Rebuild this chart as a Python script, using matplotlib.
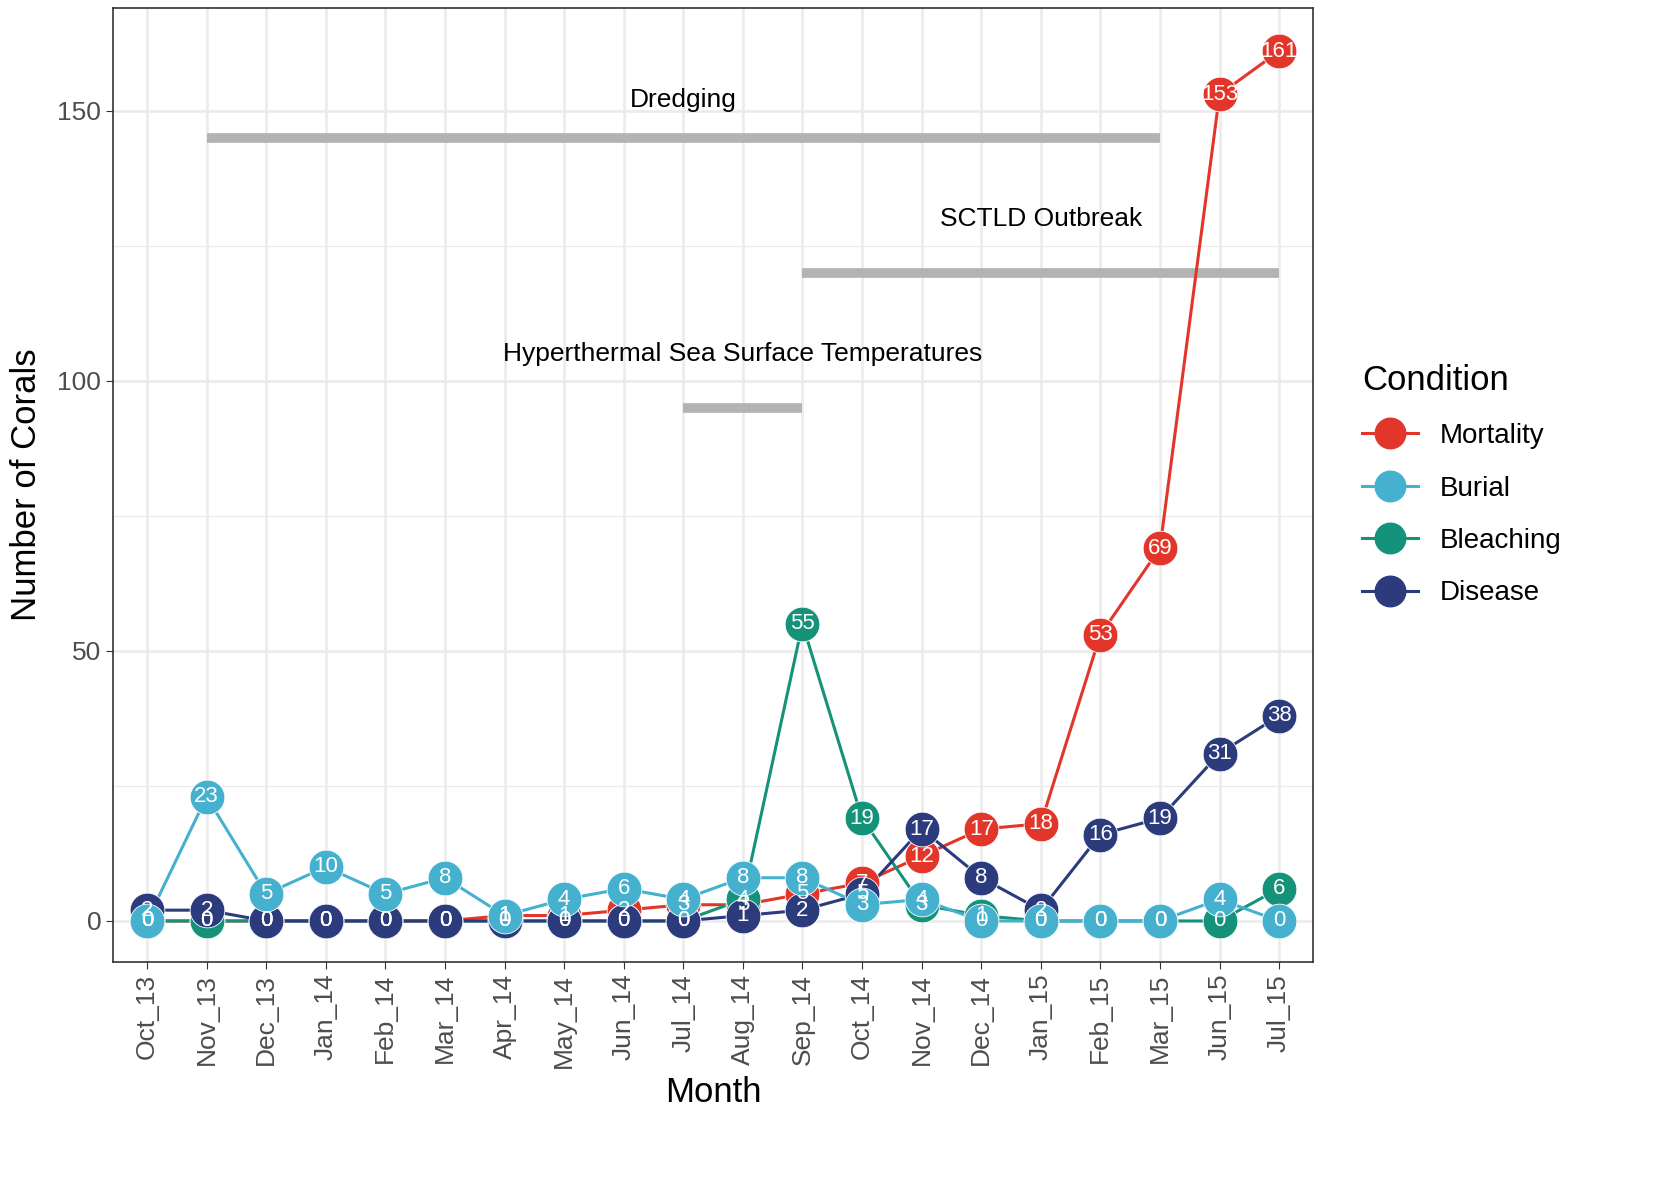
import matplotlib
matplotlib.use('Agg')
import matplotlib.pyplot as plt
from matplotlib.lines import Line2D

plt.rcParams['font.family'] = ['Liberation Sans', 'DejaVu Sans']

months = ['Oct_13', 'Nov_13', 'Dec_13', 'Jan_14', 'Feb_14', 'Mar_14', 'Apr_14',
          'May_14', 'Jun_14', 'Jul_14', 'Aug_14', 'Sep_14', 'Oct_14', 'Nov_14',
          'Dec_14', 'Jan_15', 'Feb_15', 'Mar_15', 'Jun_15', 'Jul_15']

mortality = [0, 0, 0, 0, 0, 0, 1, 1, 2, 3, 3, 5, 7, 12, 17, 18, 53, 69, 153, 161]
burial = [0, 23, 5, 10, 5, 8, 1, 4, 6, 4, 8, 8, 3, 4, 0, 0, 0, 0, 4, 0]
bleaching = [0, 0, 0, 0, 0, 0, 0, 0, 0, 0, 4, 55, 19, 3, 1, 0, 0, 0, 0, 6]
disease = [2, 2, 0, 0, 0, 0, 0, 0, 0, 0, 1, 2, 5, 17, 8, 2, 16, 19, 31, 38]

# events: label, start month, end month, bar height, label height
events = [
    ('Dredging', 'Nov_13', 'Mar_15', 145, 152),
    ('SCTLD Outbreak', 'Sep_14', 'Jul_15', 120, 130),
    ('Hyperthermal Sea Surface Temperatures', 'Jul_14', 'Sep_14', 95, 105),
]

series = [
    ('Mortality', mortality, '#E2362B', 2),
    ('Bleaching', bleaching, '#14927A', 3),
    ('Disease', disease, '#2B3B7B', 4),
    ('Burial', burial, '#46B0CF', 5),
]
legend_order = ['Mortality', 'Burial', 'Bleaching', 'Disease']

fig = plt.figure(figsize=(16.55, 11.83), dpi=100)
ax = fig.add_axes([0.0683, 0.1868, 0.7251, 0.8064])

x = list(range(len(months)))
idx = {m: i for i, m in enumerate(months)}

for label, s, e, yb, yt in events:
    ax.plot([idx[s], idx[e]], [yb, yb], color='#B3B3B3', lw=7, solid_capstyle='butt', zorder=1.5)
    ax.text((idx[s] + idx[e]) / 2, yt, label, ha='center', va='center', fontsize=19, color='black')

for name, vals, col, z in series:
    ax.plot(x, vals, color=col, lw=2.2, zorder=2)
for name, vals, col, z in series:
    ax.plot(x, vals, 'o', color=col, ms=25, mec='white', mew=0.6, zorder=z)
for name, vals, col, z in series:
    for xi, v in zip(x, vals):
        ax.text(xi, v, str(v), ha='center', va='center', fontsize=16, color='white', zorder=10)

ax.set_xlim(-0.57, 19.57)
ax.set_ylim(-7.6, 169)
ax.set_xticks(x)
ax.set_xticklabels(months, rotation=90, fontsize=19, color='#4D4D4D')
ax.set_yticks([0, 50, 100, 150])
ax.set_yticks([25, 75, 125], minor=True)
ax.tick_params(axis='y', labelsize=19, labelcolor='#4D4D4D', color='#333333', length=5)
ax.tick_params(axis='x', color='#333333', length=5)
ax.tick_params(axis='y', which='minor', length=0)
ax.grid(True, which='major', color='#EBEBEB', lw=1.8)
ax.grid(True, which='minor', axis='y', color='#EBEBEB', lw=0.9)
ax.set_axisbelow(True)
for sp in ax.spines.values():
    sp.set_color('#333333')
    sp.set_linewidth(1.2)

ax.set_xlabel('Month', fontsize=25, labelpad=6)
ax.set_ylabel('Number of Corals', fontsize=25, labelpad=10)

cols = {n: c for n, v, c, z in series}
handles = [Line2D([0], [0], color=cols[n], lw=2.2, marker='o', ms=22) for n in legend_order]
leg = ax.legend(handles, legend_order, title='Condition', loc='center left',
                bbox_to_anchor=(1.02, 0.5), frameon=False, fontsize=20,
                title_fontsize=25, labelspacing=0.95, handlelength=2.0,
                handletextpad=0.8)
leg._legend_box.align = 'left'

fig.savefig('out.png', dpi=100)
